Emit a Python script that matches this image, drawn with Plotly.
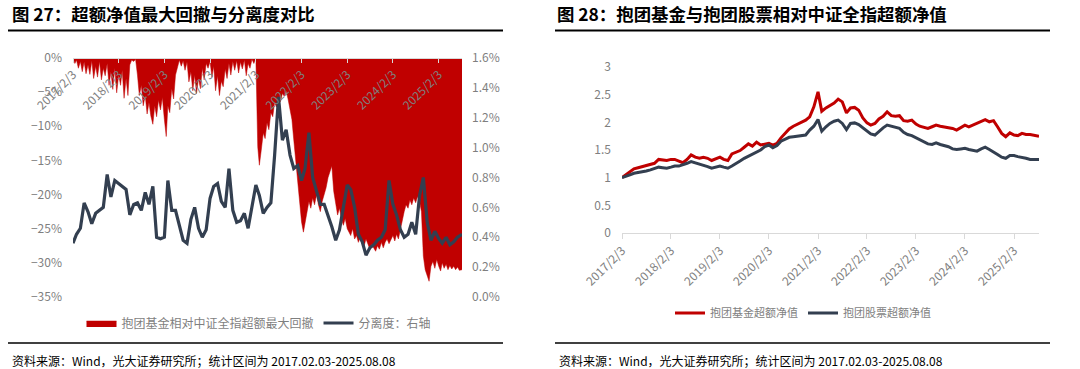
import plotly.graph_objects as go

# ---------------- data ----------------
# Left chart: max drawdown of excess NAV (%), half-monthly (3rd & 18th), 2017-02-03 .. 2025-08-08
drawdown_2017 = [0, -0.8, -0.3, -1.5, -0.5, -2.0, -0.6, -2.3, -1.0, -2.4, -0.4, -3.0, -1.2, -2.8, -0.5, -3.2, -1.5, -2.6, -0.8, -4.0, -2.0, -4.6]
drawdown_2018 = [-1.5, -5.1, -2.5, -4.0, -1.8, -5.9, -3.0, -5.5, -1.0, -0.3, -0.5, -0.2, -2.5, -5.5, -4.0, -7.0, -5.5, -8.2, -6.5, -8.5, -9.7, -7.0, -8.6, -6.2]
drawdown_2019 = [-7.6, -5.8, -9.0, -11.5, -7.0, -8.0, -4.5, -6.0, -2.5, -1.5, -0.3, -1.2, -0.4, -1.8, -0.6, -3.5, -2.0, -4.8, -2.5, -5.2, -3.0, -4.5, -1.5, -3.2]
drawdown_2020 = [-0.8, -1.5, -0.5, -2.8, -1.2, -4.8, -2.6, -5.5, -3.4, -4.2, -1.6, -3.0, -0.8, -2.5, -0.5, -1.8, -0.4, -2.2, -0.6, -1.6, -0.3, -2.6, -0.8, -1.5]
drawdown_2021 = [-0.2, -0.8, 0, -13.0, -15.7, -13.5, -11.0, -11.8, -9.5, -10.5, -8.0, -8.6, -6.5, -7.2, -5.8, -6.4, -5.2, -5.6, -4.8, -6.0, -7.5, -9.0, -12.0, -15.0]
drawdown_2022 = [-19.0, -21.0, -24.0, -25.5, -24.0, -22.5, -21.0, -22.0, -20.5, -21.5, -20.0, -21.5, -22.5, -21.0, -20.0, -19.0, -17.5, -16.5, -15.8, -19.5, -21.5, -23.0, -22.0, -23.5]
drawdown_2023 = [-24.5, -23.5, -25.0, -25.5, -26.0, -25.0, -26.5, -26.0, -27.0, -26.2, -26.8, -27.5, -26.5, -27.2, -28.0, -27.3, -27.8, -28.3, -27.5, -28.0, -27.0, -27.8, -27.0, -26.5]
drawdown_2024 = [-27.2, -26.5, -26.0, -26.8, -25.8, -26.5, -25.0, -23.5, -22.5, -21.5, -22.0, -20.8, -21.5, -20.5, -21.2, -20.3, -21.0, -22.5, -29.0, -31.0, -32.0, -32.7, -30.5, -29.8]
drawdown_2025 = [-30.8, -29.5, -30.5, -31.2, -30.0, -30.8, -30.2, -31.0, -30.4, -30.9, -30.5, -31.0, -30.6, -31.1, -31.0]

# Left chart: separation degree (%), monthly
separation_2017 = [0.36, 0.42, 0.46, 0.63, 0.57, 0.49, 0.56, 0.58, 0.60, 0.82, 0.67]
separation_2018 = [0.78, 0.76, 0.74, 0.72, 0.55, 0.62, 0.63, 0.58, 0.70, 0.62, 0.74, 0.40]
separation_2019 = [0.39, 0.40, 0.78, 0.58, 0.58, 0.48, 0.38, 0.36, 0.52, 0.60, 0.46, 0.40]
separation_2020 = [0.45, 0.66, 0.74, 0.76, 0.64, 0.60, 0.86, 0.58, 0.50, 0.51, 0.56, 0.46]
separation_2021 = [0.60, 0.75, 0.68, 0.56, 0.60, 0.63, 0.95, 1.34, 1.05, 1.12, 0.95, 0.86]
separation_2022 = [0.88, 0.78, 0.86, 1.10, 0.80, 0.70, 0.62, 0.62, 0.55, 0.47, 0.38, 0.45]
separation_2023 = [0.60, 0.75, 0.72, 0.60, 0.42, 0.37, 0.28, 0.33, 0.35, 0.38, 0.40, 0.45]
separation_2024 = [0.78, 0.62, 0.55, 0.45, 0.40, 0.42, 0.50, 0.42, 0.68, 0.80, 0.50, 0.38]
separation_2025 = [0.44, 0.39, 0.36, 0.40, 0.35, 0.37, 0.40, 0.42]

# Right chart: excess NAV, monthly
fund_nav_2017 = [1.00, 1.05, 1.10, 1.16, 1.18, 1.20, 1.21, 1.23, 1.26, 1.33, 1.32]
fund_nav_2018 = [1.31, 1.33, 1.33, 1.30, 1.27, 1.33, 1.41, 1.37, 1.35, 1.37, 1.35, 1.31]
fund_nav_2019 = [1.34, 1.37, 1.33, 1.31, 1.43, 1.46, 1.49, 1.55, 1.61, 1.57, 1.64, 1.59]
fund_nav_2020 = [1.61, 1.62, 1.59, 1.62, 1.72, 1.80, 1.88, 1.93, 1.97, 2.01, 2.04, 2.10]
fund_nav_2021 = [2.28, 2.55, 2.20, 2.26, 2.31, 2.35, 2.42, 2.37, 2.17, 2.26, 2.27, 2.22]
fund_nav_2022 = [2.08, 1.99, 1.95, 1.98, 2.06, 2.11, 2.19, 2.12, 2.11, 2.12, 2.03, 2.02]
fund_nav_2023 = [2.04, 1.97, 1.93, 1.91, 1.89, 1.92, 1.95, 1.93, 1.92, 1.91, 1.89, 1.86]
fund_nav_2024 = [1.90, 1.95, 1.92, 1.95, 1.98, 2.01, 2.05, 2.01, 2.03, 1.92, 1.80, 1.74]
fund_nav_2025 = [1.81, 1.77, 1.76, 1.80, 1.78, 1.78, 1.76, 1.75]

stock_nav_2017 = [1.00, 1.02, 1.05, 1.08, 1.09, 1.11, 1.12, 1.14, 1.17, 1.19, 1.18]
stock_nav_2018 = [1.17, 1.19, 1.21, 1.21, 1.23, 1.26, 1.29, 1.27, 1.24, 1.22, 1.20, 1.17]
stock_nav_2019 = [1.19, 1.21, 1.19, 1.17, 1.21, 1.25, 1.30, 1.35, 1.39, 1.42, 1.46, 1.50]
stock_nav_2020 = [1.56, 1.59, 1.54, 1.58, 1.66, 1.70, 1.73, 1.74, 1.75, 1.76, 1.77, 1.86]
stock_nav_2021 = [1.93, 2.05, 1.84, 1.92, 1.98, 2.02, 2.04, 1.98, 1.87, 1.98, 1.99, 1.96]
stock_nav_2022 = [1.90, 1.83, 1.79, 1.77, 1.84, 1.90, 1.95, 1.93, 1.92, 1.89, 1.82, 1.78]
stock_nav_2023 = [1.76, 1.72, 1.68, 1.65, 1.61, 1.60, 1.63, 1.60, 1.58, 1.56, 1.52, 1.51]
stock_nav_2024 = [1.52, 1.53, 1.51, 1.49, 1.48, 1.52, 1.55, 1.51, 1.47, 1.42, 1.37, 1.35]
stock_nav_2025 = [1.40, 1.40, 1.38, 1.37, 1.35, 1.33, 1.33, 1.33]

tick_years = [2017, 2018, 2019, 2020, 2021, 2022, 2023, 2024, 2025]
tick_vals = [f"{y}-02-03" for y in tick_years]
tick_text = [f"{y}/2/3" for y in tick_years]

title_left = "图 27：超额净值最大回撤与分离度对比"
title_right = "图 28：抱团基金与抱团股票相对中证全指超额净值"
source_text = "资料来源：Wind，光大证券研究所；统计区间为 2017.02.03-2025.08.08"
name_dd = "抱团基金相对中证全指超额最大回撤"
name_sep = "分离度：右轴"
name_fund = "抱团基金超额净值"
name_stock = "抱团股票超额净值"

# ---------------- assemble ----------------
def join(*parts):
    out = []
    for p in parts:
        out += p
    return out

drawdown = join(drawdown_2017, drawdown_2018, drawdown_2019, drawdown_2020, drawdown_2021,
                drawdown_2022, drawdown_2023, drawdown_2024, drawdown_2025)
separation = join(separation_2017, separation_2018, separation_2019, separation_2020, separation_2021,
                  separation_2022, separation_2023, separation_2024, separation_2025)
fund_nav = join(fund_nav_2017, fund_nav_2018, fund_nav_2019, fund_nav_2020, fund_nav_2021,
                fund_nav_2022, fund_nav_2023, fund_nav_2024, fund_nav_2025)
stock_nav = join(stock_nav_2017, stock_nav_2018, stock_nav_2019, stock_nav_2020, stock_nav_2021,
                 stock_nav_2022, stock_nav_2023, stock_nav_2024, stock_nav_2025)

def make_dates(days):
    out = []
    for y in range(2017, 2026):
        for m in range(1, 13):
            if (y, m) < (2017, 2) or (y, m) > (2025, 8):
                continue
            for d in days:
                if (y, m) == (2025, 8) and d > 3:
                    continue
                out.append(f"{y}-{m:02d}-{d:02d}")
    out[-1] = "2025-08-08"
    return out

half_dates = make_dates((3, 18))
month_dates = make_dates((3,))

RED = "#C00000"
NAVY = "#333F50"
GRAY = "#7f7f7f"
AX = "#d9d9d9"
FONT = "Noto Sans CJK SC, Noto Sans, sans-serif"
W, H = 1080, 369

def px(x):
    return x / W

def py(y):
    return 1 - y / H

fig = go.Figure()

fig.add_trace(go.Scatter(x=half_dates, y=drawdown, name=name_dd, mode="lines",
                         line=dict(color=RED, width=0.5), fill="tozeroy", fillcolor=RED,
                         xaxis="x", yaxis="y", legend="legend"))
fig.add_trace(go.Scatter(x=month_dates, y=separation, name=name_sep, mode="lines",
                         line=dict(color=NAVY, width=3.2), xaxis="x", yaxis="y2", legend="legend"))
fig.add_trace(go.Scatter(x=month_dates, y=fund_nav, name=name_fund, mode="lines",
                         line=dict(color=RED, width=3), xaxis="x2", yaxis="y3", legend="legend2"))
fig.add_trace(go.Scatter(x=month_dates, y=stock_nav, name=name_stock, mode="lines",
                         line=dict(color=NAVY, width=3), xaxis="x2", yaxis="y3", legend="legend2"))

tickfont = dict(family=FONT, size=12, color=GRAY)
left_top = py(58)
left_bot = py(297)

fig.update_layout(
    template="none",
    width=W, height=H, autosize=False,
    margin=dict(l=0, r=0, t=0, b=0, pad=0),
    paper_bgcolor="white", plot_bgcolor="white",
    font=dict(family=FONT),
    showlegend=True,
    hovermode=False,
    xaxis=dict(domain=[px(73), px(462)], type="date", range=["2017-02-03", "2025-08-08"],
               anchor="free", position=left_top, side="bottom", automargin=False,
               tickvals=tick_vals, ticktext=tick_text, tickangle=-45, tickfont=tickfont,
               showline=True, linecolor=AX, linewidth=1, ticks="outside", ticklen=4, tickcolor=AX,
               showgrid=False, zeroline=False),
    yaxis=dict(domain=[left_bot, left_top], range=[-35, 0], dtick=5, ticksuffix="%", automargin=False,
               tickfont=tickfont, showgrid=False, zeroline=False, showline=False,
               anchor="x", ticks="", ticklabelstandoff=10),
    yaxis2=dict(range=[0, 1.6], dtick=0.2, tickformat=".1f", ticksuffix="%", overlaying="y",
                side="right", anchor="x", tickfont=tickfont, showgrid=False, zeroline=False,
                showline=False, ticks="", ticklabelstandoff=9, automargin=False),
    xaxis2=dict(domain=[px(622), px(1039)], type="date", range=["2017-02-03", "2025-08-08"],
                anchor="y3", tickvals=tick_vals, ticktext=tick_text, tickangle=-45, tickfont=tickfont,
                showline=True, linecolor=AX, linewidth=1, ticks="outside", ticklen=5, tickcolor=AX,
                showgrid=False, zeroline=False, automargin=False),
    yaxis3=dict(domain=[py(233), py(67)], range=[0, 3], dtick=0.5, anchor="x2",
                tickfont=tickfont, showgrid=False, zeroline=False, showline=False,
                ticks="", ticklabelstandoff=10, automargin=False),
    legend=dict(orientation="h", x=px(259), xanchor="center", y=py(323), yanchor="middle",
                font=dict(family=FONT, size=12, color=GRAY), bgcolor="rgba(0,0,0,0)"),
    legend2=dict(orientation="h", x=px(803), xanchor="center", y=py(313), yanchor="middle",
                 font=dict(family=FONT, size=11, color=GRAY), bgcolor="rgba(0,0,0,0)"),
)

# titles and source notes
for x0, txt in [(10, title_left), (555, title_right)]:
    fig.add_annotation(x=px(x0), y=py(14), xref="paper", yref="paper", xanchor="left", yanchor="middle",
                       text=f"<b>{txt}</b>", showarrow=False,
                       font=dict(family=FONT, size=17.4, color="#000000"))
for x0 in (10, 557):
    fig.add_annotation(x=px(x0), y=py(360), xref="paper", yref="paper", xanchor="left", yanchor="middle",
                       text=source_text, showarrow=False,
                       font=dict(family=FONT, size=12, color="#000000"))

# rule lines
for (x0, x1) in [(8, 503), (555, 1050)]:
    fig.add_shape(type="line", xref="paper", yref="paper", x0=px(x0), x1=px(x1), y0=py(30.5), y1=py(30.5),
                  line=dict(color="#000000", width=2))
    fig.add_shape(type="line", xref="paper", yref="paper", x0=px(x0), x1=px(x1), y0=py(343), y1=py(343),
                  line=dict(color="#000000", width=1.5))

# place the figure flush with the window's top-left corner, static (no mode bar)
fig.write_html("out.html",
               config={"displayModeBar": False, "staticPlot": True},
               post_script="document.body.style.margin='0';document.body.style.padding='0';")
